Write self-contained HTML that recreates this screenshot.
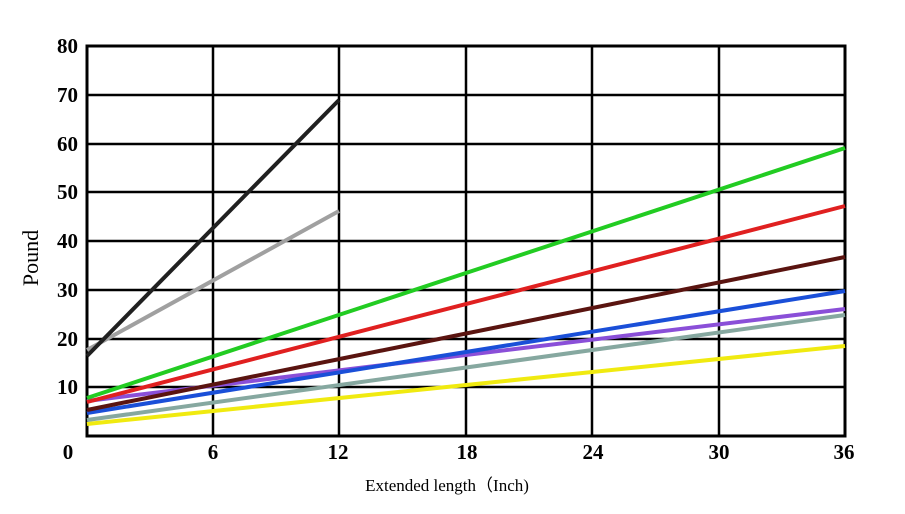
<!DOCTYPE html>
<html><head><meta charset="utf-8"><style>body{margin:0;background:#fff}svg{display:block}</style></head><body>
<svg width="905" height="514" viewBox="0 0 905 514" xmlns="http://www.w3.org/2000/svg" font-family="Liberation Serif, serif">
<rect width="905" height="514" fill="#fff"/>
<g stroke="#000" stroke-width="2.5">
<line x1="87" y1="95" x2="845" y2="95"/><line x1="87" y1="144" x2="845" y2="144"/><line x1="87" y1="192" x2="845" y2="192"/><line x1="87" y1="241" x2="845" y2="241"/><line x1="87" y1="290" x2="845" y2="290"/><line x1="87" y1="339" x2="845" y2="339"/><line x1="87" y1="387" x2="845" y2="387"/>
<line x1="213" y1="46" x2="213" y2="436"/><line x1="339" y1="46" x2="339" y2="436"/><line x1="466" y1="46" x2="466" y2="436"/><line x1="592" y1="46" x2="592" y2="436"/><line x1="719" y1="46" x2="719" y2="436"/>
<rect x="87" y="46" width="758" height="390" fill="none" stroke-width="3"/>
</g>
<g stroke-width="4" fill="none" stroke-linecap="butt">
<line x1="87" y1="424" x2="845" y2="346" stroke="#f0ea10"/>
<line x1="87" y1="420" x2="845" y2="315" stroke="#86a8a0"/>
<line x1="87" y1="401" x2="845" y2="309" stroke="#8a4fd8"/>
<line x1="87" y1="413" x2="845" y2="291" stroke="#1a4fd8"/>
<line x1="87" y1="410" x2="845" y2="257" stroke="#5a1410"/>
<line x1="87" y1="402" x2="845" y2="206" stroke="#e02020"/>
<line x1="87" y1="398" x2="845" y2="148" stroke="#22cc22"/>
<line x1="87" y1="350" x2="339" y2="211" stroke="#a0a0a0"/>
<line x1="87" y1="356" x2="339" y2="100" stroke="#202020"/>
</g>
<g font-size="21" font-weight="bold" text-anchor="end">
<text x="78" y="53">80</text><text x="78" y="102">70</text><text x="78" y="151">60</text><text x="78" y="199">50</text><text x="78" y="248">40</text><text x="78" y="297">30</text><text x="78" y="346">20</text><text x="78" y="394">10</text>
</g>
<g font-size="21" font-weight="bold" text-anchor="middle">
<text x="68" y="459">0</text><text x="213" y="459">6</text><text x="338" y="459">12</text><text x="467" y="459">18</text><text x="593" y="459">24</text><text x="719" y="459">30</text><text x="844" y="459">36</text>
</g>
<text x="447" y="491" font-size="17" text-anchor="middle">Extended length（Inch)</text>
<text transform="translate(38,258) rotate(-90)" font-size="22" text-anchor="middle">Pound</text>
</svg>
</body></html>
